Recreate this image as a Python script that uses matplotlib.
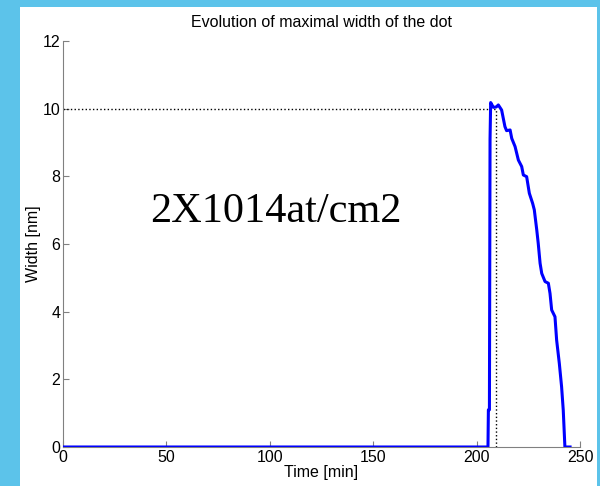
import matplotlib
matplotlib.use("Agg")
import matplotlib.pyplot as plt
from matplotlib.patches import Rectangle

## Donnees
temps = [0, 205.5, 205.7, 206.2, 206.5, 206.8, 208.1, 209.5, 210.5, 212.1, 213.7, 214.5,
         216.2, 217.0, 218.6, 220.2, 221.8, 222.6, 224.2, 225.5, 227.1, 227.9, 229.1,
         229.8, 230.7, 231.5, 233.1, 234.7, 235.5, 236.3, 237.9, 238.7, 240.0, 241.1,
         241.9, 242.7, 245.2]
largeur = [0, 0, 1.1, 1.1, 9.1, 10.18, 10.04, 10.05, 10.11, 9.96, 9.47, 9.35,
           9.37, 9.12, 8.88, 8.48, 8.29, 8.04, 7.99, 7.50, 7.20, 7.01, 6.41,
           6.02, 5.43, 5.13, 4.89, 4.84, 4.54, 4.05, 3.85, 3.16, 2.47, 1.78,
           1.09, 0, 0]
t_max = 209.2
w_max = 10.0
xticks = [0, 50, 100, 150, 200, 250]
yticks = [0, 2, 4, 6, 8, 10, 12]

plt.rcParams['font.family'] = ['Liberation Sans', 'DejaVu Sans']

fig = plt.figure(figsize=(6, 4.86), dpi=100)
fig.patch.set_facecolor('#5cc3ea')
# panneau blanc de la diapo
fig.patches.append(Rectangle((20/600, 0), 577/600, 479/486, transform=fig.transFigure,
                             facecolor='white', edgecolor='none', zorder=-10))

ax = fig.add_axes([63/600, 39/486, 517/600, 406/486])
ax.set_facecolor('none')
ax.plot(temps, largeur, color='#0000ff', linewidth=2.2, zorder=3)
ax.plot([0, t_max], [w_max, w_max], color='black', linestyle=':', linewidth=1)
ax.plot([t_max, t_max], [0, w_max], color='black', linestyle=':', linewidth=1)

ax.set_xlim(0, 250)
ax.set_ylim(0, 12)
ax.set_xticks(xticks)
ax.set_yticks(yticks)
ax.spines['top'].set_visible(False)
ax.spines['right'].set_visible(False)
for s in ['left', 'bottom']:
    ax.spines[s].set_color('#808080')
ax.tick_params(direction='in', length=4, color='#808080', labelsize=11.5, pad=2)

ax.set_title("Evolution of maximal width of the dot", fontsize=11.5, pad=10)
ax.set_xlabel("Time [min]", fontsize=11.5, labelpad=0)
ax.set_ylabel("Width [nm]", fontsize=11.5, labelpad=1)

ax.text(0.168, 0.554, "2X1014at/cm2", transform=ax.transAxes, fontsize=30.5,
        family='Liberation Serif', ha='left', va='baseline')

plt.savefig("out.png", dpi=100, facecolor=fig.get_facecolor())
